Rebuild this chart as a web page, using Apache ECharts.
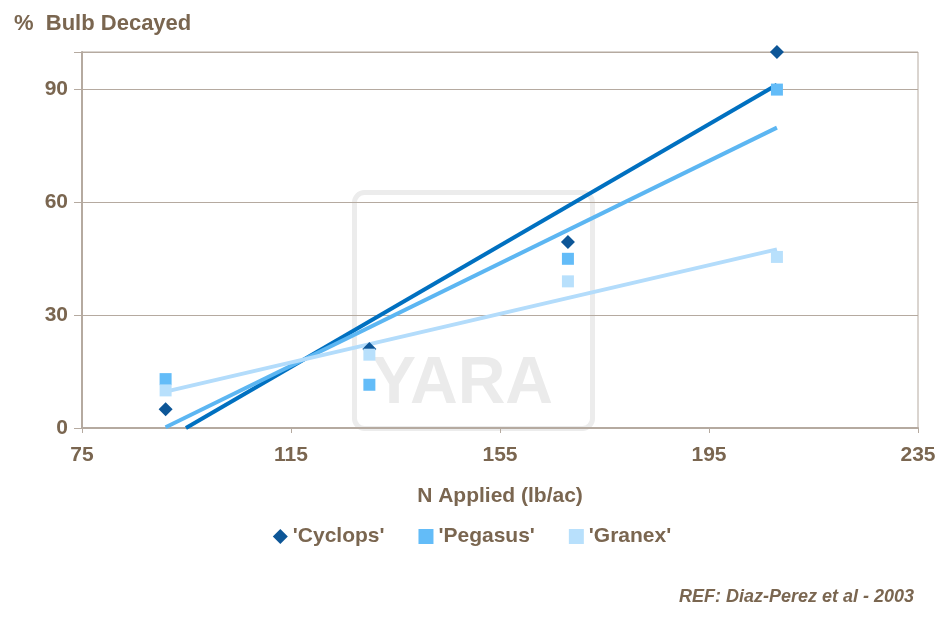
<!DOCTYPE html>
<html lang="en">
<head>
    <meta charset="UTF-8">
    <title>Bulb Decayed</title>
    <script src="https://cdn.jsdelivr.net/npm/echarts@6/dist/echarts.min.js"></script>
    <style>
        html, body { margin: 0; background: #fff; }
        #container { width: 944px; height: 620px; }
    </style>
</head>
<body>
<div id="container"></div>
<script>
    var nApplied = [91, 130, 168, 208];
    var cyclops = [5, 21, 49.5, 100];
    var pegasus = [13, 11.5, 45, 90];
    var granex = [10, 19.5, 39, 45.5];
    var yTicks = [0, 30, 60, 90];

    var txt = '#7a6650';

    // least squares fit, drawn from the first x (or where it crosses 0) to the last x
    function trend(ys) {
        var n = ys.length, mx = 0, my = 0, sxy = 0, sxx = 0;
        for (var i = 0; i < n; i++) { mx += nApplied[i] / n; my += ys[i] / n; }
        for (var j = 0; j < n; j++) {
            sxy += (nApplied[j] - mx) * (ys[j] - my);
            sxx += (nApplied[j] - mx) * (nApplied[j] - mx);
        }
        var b = sxy / sxx, a = my - b * mx;
        var x0 = nApplied[0], x1 = nApplied[n - 1];
        if (a + b * x0 < 0) x0 = -a / b;
        return [[x0, a + b * x0], [x1, a + b * x1]];
    }
    function pairs(ys) { return nApplied.map(function (x, i) { return [x, ys[i]]; }); }

    var chart = echarts.init(document.getElementById('container'));
    chart.setOption({
        animation: false,
        textStyle: { fontFamily: 'Liberation Sans, Arial, sans-serif' },
        graphic: [
            { type: 'rect', left: 352, top: 190, shape: { width: 238, height: 236, r: 10 },
              style: { fill: 'none', stroke: '#ececec', lineWidth: 5 }, z: -1 },
            { type: 'text', left: 372, top: 352, style: { text: 'YARA', fill: '#ebebeb',
              font: 'bold 66px Liberation Sans, Arial' }, z: -1 },
            { type: 'text', left: 14, top: 13, style: { text: '%  Bulb Decayed', fill: txt,
              font: 'bold 22px Liberation Sans, Arial' } },
            { type: 'text', right: 30, top: 588, style: { text: 'REF: Diaz-Perez et al - 2003', fill: txt,
              font: 'italic bold 18px Liberation Sans, Arial' } }
        ],
        grid: { left: 82, right: 26, top: 52, bottom: 192, show: true, borderColor: '#b5aaa0', borderWidth: 1 },
        legend: {
            bottom: 68, itemGap: 34, itemWidth: 15, itemHeight: 15,
            textStyle: { color: txt, fontSize: 21, fontWeight: 'bold' },
            data: ["'Cyclops'", "'Pegasus'", "'Granex'"]
        },
        xAxis: {
            type: 'value', min: 75, max: 235, interval: 40,
            name: 'N Applied (lb/ac)', nameLocation: 'middle', nameGap: 58,
            nameTextStyle: { color: txt, fontSize: 21, fontWeight: 'bold' },
            axisLine: { onZero: false, lineStyle: { color: '#b5aaa0', width: 2 } },
            axisTick: { show: true, lineStyle: { color: '#b5aaa0' } },
            axisLabel: { color: txt, fontSize: 21, fontWeight: 'bold', margin: 17 },
            splitLine: { show: false }
        },
        yAxis: {
            type: 'value', min: 0, max: 100, interval: 30,
            axisLine: { show: true, lineStyle: { color: '#b5aaa0', width: 2 } },
            axisTick: { show: true, length: 8, lineStyle: { color: '#b5aaa0' } },
            axisLabel: { color: txt, fontSize: 21, fontWeight: 'bold', margin: 14,
                formatter: function (v) { return yTicks.indexOf(v) >= 0 ? v : ''; } },
            splitLine: { lineStyle: { color: '#b5aaa0' } }
        },
        series: [
            { name: 'tc', type: 'line', data: trend(cyclops), symbol: 'none', z: 2,
              lineStyle: { color: '#0070c0', width: 4 } },
            { name: 'tp', type: 'line', data: trend(pegasus), symbol: 'none', z: 2,
              lineStyle: { color: '#5cb6f2', width: 4 } },
            { name: 'tg', type: 'line', data: trend(granex), symbol: 'none', z: 2,
              lineStyle: { color: '#b3dcfb', width: 4 } },
            { name: "'Cyclops'", type: 'scatter', data: pairs(cyclops), symbol: 'diamond', symbolSize: 14, z: 3,
              itemStyle: { color: '#0d5697', opacity: 1 } },
            { name: "'Pegasus'", type: 'scatter', data: pairs(pegasus), symbol: 'rect', symbolSize: 12, z: 3,
              itemStyle: { color: '#63bcf8', opacity: 1 } },
            { name: "'Granex'", type: 'scatter', data: pairs(granex), symbol: 'rect', symbolSize: 12, z: 3,
              itemStyle: { color: '#b8e0fc', opacity: 1 } }
        ]
    });
</script>
</body>
</html>
